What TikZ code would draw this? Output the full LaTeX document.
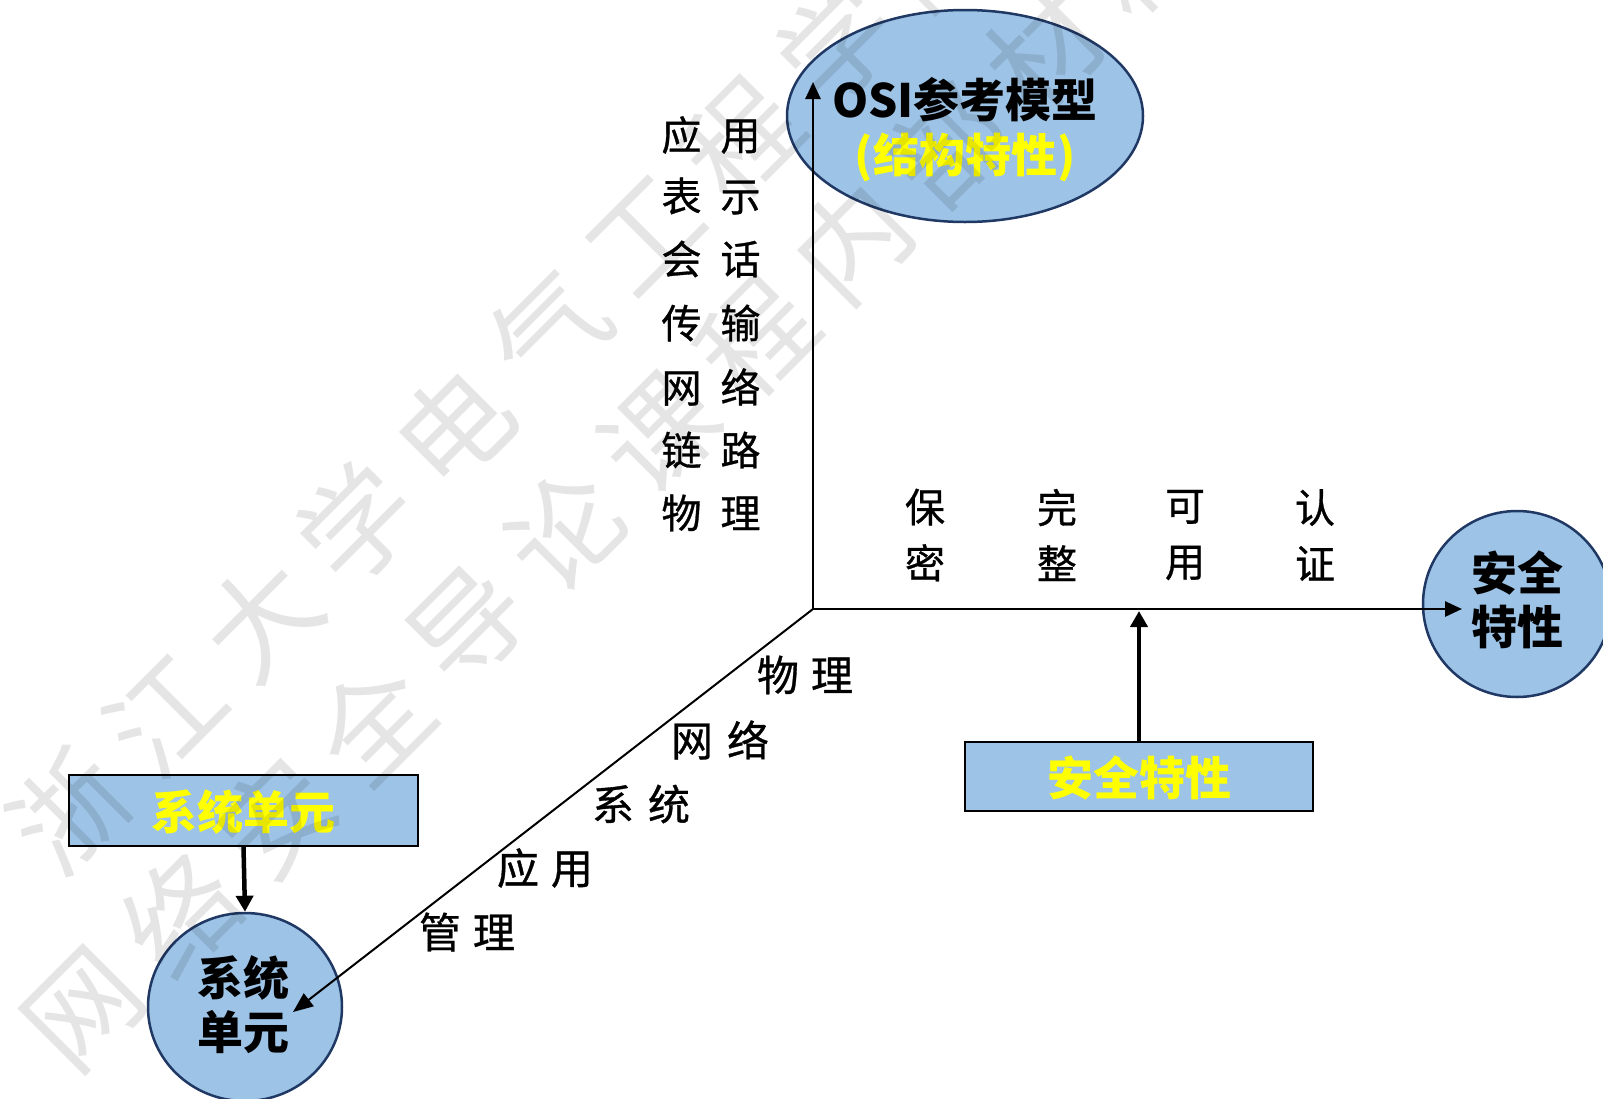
\documentclass[tikz,border=0pt]{standalone}
\usepackage{fontspec}
\setmainfont{Noto Sans CJK SC}
\newfontfamily\brush[FakeBold=0.8]{Noto Sans CJK SC}
\usetikzlibrary{shapes.geometric,arrows.meta}
\definecolor{lblue}{HTML}{9DC3E6}
\definecolor{navy}{RGB}{32,56,100}
\definecolor{yel}{HTML}{FFFF00}
\tikzset{
  bubble/.style={ellipse, draw=navy, line width=2.5pt, fill=lblue, inner sep=0pt},
  box/.style={rectangle, draw=black, line width=1.8pt, fill=lblue, inner sep=0pt},
  boldtxt/.style={font=\bfseries\fontsize{46}{54}\selectfont, inner sep=0pt, align=center},
  yeltxt/.style={boldtxt, text=yel},
  lbl/.style={font=\brush\fontsize{40}{56}\selectfont, inner sep=0pt, align=center},
  dlbl/.style={font=\brush\fontsize{42}{56}\selectfont, inner sep=0pt},
  axisarr/.style={line width=2.7pt, -{Triangle[length=17pt,width=15pt]}},
  diagarr/.style={line width=2pt, -{Triangle[length=20pt,width=16pt]}},
  fatarr/.style={line width=4.5pt, -{Triangle[length=16pt,width=17pt]}},
  wm/.style={font=\fontsize{112}{112}\selectfont, text=black, text opacity=0.10, rotate=45, inner sep=0pt}
}
\begin{document}
\begin{tikzpicture}[x=1pt,y=-1pt]
\useasboundingbox (0,0) rectangle (1603,1098);
\fill[white] (0,0) rectangle (1603,1098);

% bubbles and boxes
\node[bubble, minimum width=356pt, minimum height=212pt] (osi) at (965,116) {};
\node[bubble, minimum width=188pt, minimum height=186pt] (secc) at (1517,604) {};
\node[bubble, minimum width=194pt, minimum height=188pt] (sysc) at (245,1007) {};
\node[box, minimum width=348pt, minimum height=69pt] (secbox) at (1139,776.5) {};
\node[box, minimum width=349pt, minimum height=71pt] (sysbox) at (243.5,810.5) {};

% texts in shapes
\node[boldtxt] (osit) at (965,100) {OSI参考模型};
\node[yeltxt] (osis) at (965,157) {(结构特性)};
\node[boldtxt] (sect) at (1517,600) {安全\\特性};
\node[boldtxt] (syst) at (243,1005) {系统\\单元};
\node[yeltxt] (secboxt) at (1139,778) {安全特性};
\node[yeltxt] (sysboxt) at (243,812) {系统单元};

% axes
\coordinate (O) at (813,609);
\coordinate (ytip) at (813,82);
\coordinate (xtip) at (1462,609);
\coordinate (ztip) at (293,1012);
\coordinate (stip) at (1139,611);
\draw[axisarr] (O) -- (ytip);
\draw[axisarr] (O) -- (xtip);
\draw[diagarr] (O) -- (ztip);
\draw[fatarr] (secbox.north) -- (stip);
\draw[fatarr] (sysbox.south) -- (sysc.north);

% OSI layer labels
\foreach \t/\y [count=\i] in {应\hspace{19pt}用/135, 表\hspace{19pt}示/196, 会\hspace{19pt}话/259, 传\hspace{19pt}输/323, 网\hspace{19pt}络/387, 链\hspace{19pt}路/450, 物\hspace{19pt}理/513}
  \node[lbl] (osil\i) at (711,\y) {\t};

% security labels
\node[lbl] (s1) at (925,535) {保\\密};
\node[lbl] (s2) at (1057,535) {完\\整};
\node[lbl] (s3) at (1185,535) {可\\用};
\node[lbl] (s4) at (1315,535) {认\\证};

% system unit labels
\node[dlbl] (d1) at (805,675) {物\hspace{12pt}理};
\node[dlbl] (d2) at (720,740) {网\hspace{14pt}络};
\node[dlbl] (d3) at (641,804) {系\hspace{14pt}统};
\node[dlbl] (d4) at (545,868) {应\hspace{12pt}用};
\node[dlbl] (d5) at (467,932) {管\hspace{12pt}理};

% watermark
\foreach \c [count=\i from 0] in {浙,江,大,学,电,气,工,程,学,院}
  \node[wm] (wa\i) at ({69+96*\i},{811-96*\i}) {\c};
\foreach \c [count=\i from 0] in {网,络,安,全,导,论,课,程,内,部,材,料}
  \node[wm] (wb\i) at ({84+96*\i},{1010-96*\i}) {\c};
\end{tikzpicture}
\end{document}
